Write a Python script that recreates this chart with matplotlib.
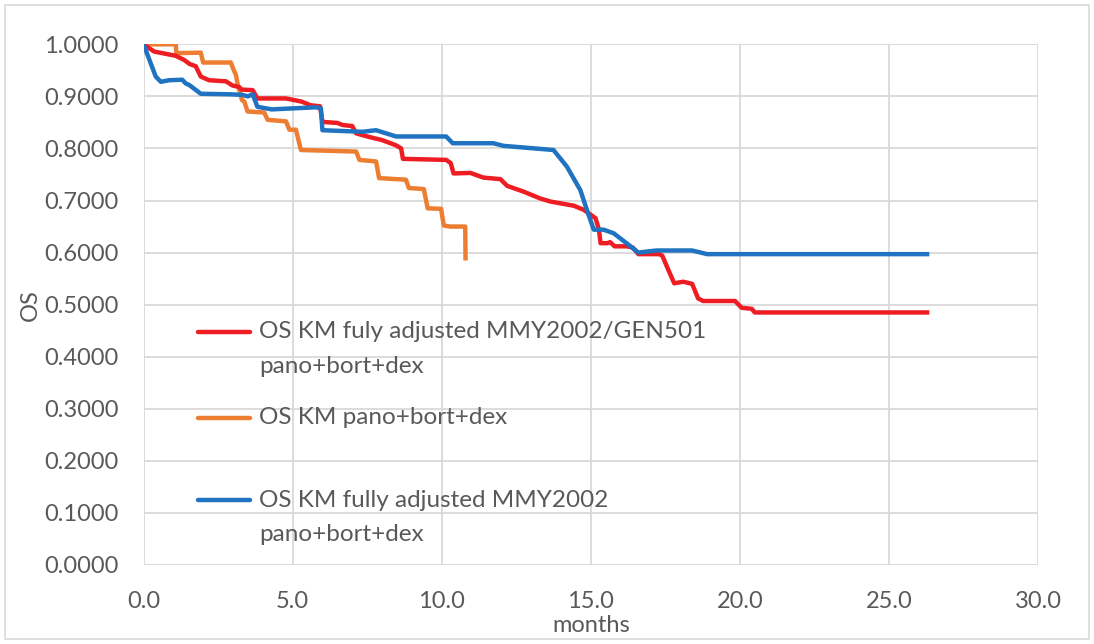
import matplotlib
matplotlib.use("Agg")
import matplotlib.pyplot as plt
from matplotlib.patches import Rectangle
from matplotlib.lines import Line2D

# Kaplan-Meier overall survival curves (months, OS)
red_months = [0.0, 0.36, 1.08, 1.36, 1.55, 1.75, 1.92, 2.2, 2.76, 2.98, 3.2, 3.3, 3.66, 3.82,
              4.78, 5.3, 5.6, 5.92, 6.0, 6.5, 6.68, 7.0, 7.13, 7.57, 8.0, 8.47, 8.64, 8.70,
              10.15, 10.3, 10.40, 10.96, 11.4, 11.97, 12.2, 12.75, 13.3, 13.65, 14.43, 14.77,
              15.16, 15.27, 15.33, 15.55, 15.65, 15.8, 16.2, 16.4, 16.6, 17.3, 17.4, 17.6,
              17.8, 18.1, 18.4, 18.6, 18.77, 19.84, 20.06, 20.4, 20.5, 26.28]
red_os = [1.000, 0.986, 0.978, 0.970, 0.962, 0.958, 0.938, 0.931, 0.929, 0.921, 0.918, 0.913,
          0.912, 0.896, 0.896, 0.890, 0.883, 0.881, 0.851, 0.849, 0.845, 0.843, 0.829, 0.822,
          0.816, 0.806, 0.800, 0.780, 0.778, 0.772, 0.752, 0.753, 0.744, 0.741, 0.728, 0.717,
          0.704, 0.698, 0.690, 0.682, 0.666, 0.645, 0.618, 0.618, 0.620, 0.612, 0.612, 0.610,
          0.597, 0.597, 0.594, 0.567, 0.541, 0.544, 0.540, 0.512, 0.507, 0.507, 0.494, 0.492,
          0.485, 0.485]

orange_months = [0.0, 1.08, 1.10, 1.92, 2.0, 2.93, 3.0, 3.1, 3.15, 3.25, 3.30, 3.38, 3.49,
                 4.05, 4.16, 4.78, 4.89, 5.11, 5.28, 7.13, 7.24, 7.80, 7.90, 8.80, 8.90, 9.40,
                 9.53, 9.98, 10.07, 10.28, 10.79, 10.80]
orange_os = [1.000, 1.000, 0.983, 0.984, 0.965, 0.965, 0.954, 0.941, 0.925, 0.905, 0.893,
             0.890, 0.871, 0.869, 0.855, 0.852, 0.836, 0.836, 0.797, 0.794, 0.778, 0.775,
             0.743, 0.740, 0.724, 0.722, 0.685, 0.684, 0.652, 0.650, 0.650, 0.589]

blue_months = [0.0, 0.41, 0.58, 0.86, 1.30, 1.41, 1.53, 1.76, 1.92, 2.87, 3.3, 3.5, 3.66, 3.82,
               4.3, 5.77, 5.95, 6.0, 7.35, 7.8, 8.47, 10.15, 10.37, 11.73, 12.07, 13.75, 14.2,
               14.65, 14.87, 15.1, 15.43, 15.77, 16.2, 16.6, 17.2, 18.4, 18.9, 26.28]
blue_os = [1.000, 0.938, 0.928, 0.931, 0.932, 0.925, 0.922, 0.912, 0.905, 0.904, 0.903, 0.900,
           0.904, 0.880, 0.875, 0.879, 0.877, 0.835, 0.832, 0.835, 0.823, 0.823, 0.810, 0.810,
           0.805, 0.797, 0.765, 0.720, 0.682, 0.644, 0.644, 0.637, 0.618, 0.600, 0.604, 0.604,
           0.597, 0.597]

x_ticks = [0, 5, 10, 15, 20, 25, 30]
y_ticks = [0.0, 0.1, 0.2, 0.3, 0.4, 0.5, 0.6, 0.7, 0.8, 0.9, 1.0]

RED = "#EE1D23"
ORANGE = "#ED7D31"
BLUE = "#1F73C1"
TEXT = "#595959"
GRID = "#D9D9D9"
FONT = ["Lato", "DejaVu Sans"]
FS = 17

plt.rcParams["font.family"] = FONT

fig = plt.figure(figsize=(10.94, 6.44), dpi=100)
fig.patch.set_facecolor("white")
fig.add_artist(Rectangle((0.005, 0.008), 0.99, 0.985, transform=fig.transFigure,
                         fill=False, edgecolor=GRID, linewidth=1.2))

ax = fig.add_axes([0.1312, 0.1227, 0.8176, 0.8085])

ax.plot(red_months, red_os, color=RED, linewidth=3.2, solid_joinstyle="round", zorder=3)
ax.plot(orange_months, orange_os, color=ORANGE, linewidth=3.2, solid_joinstyle="round", zorder=2)
ax.plot(blue_months, blue_os, color=BLUE, linewidth=3.2, solid_joinstyle="round", zorder=4)

ax.set_xlim(0, 30)
ax.set_ylim(0, 1.0)
ax.set_xticks(x_ticks)
ax.set_xticklabels([f"{v:.1f}" for v in x_ticks])
ax.set_yticks(y_ticks)
ax.set_yticklabels([f"{v:.4f}" for v in y_ticks])
ax.grid(True, color=GRID, linewidth=1.3)
ax.set_axisbelow(True)
for s in ax.spines.values():
    s.set_visible(False)
ax.tick_params(length=0, labelsize=FS, colors=TEXT)
ax.tick_params(axis="x", pad=19)
ax.tick_params(axis="y", pad=18)

ax.set_xlabel("months", fontsize=FS, color=TEXT, labelpad=2)
ax.set_ylabel("OS", fontsize=FS, color=TEXT, labelpad=2)

# Legend drawn inside the plot area
entries = [
    (RED, ["OS KM fuly adjusted MMY2002/GEN501", "pano+bort+dex"], 0.4475),
    (ORANGE, ["OS KM pano+bort+dex"], 0.2823),
    (BLUE, ["OS KM fully adjusted MMY2002", "pano+bort+dex"], 0.1248),
]
line_gap = 0.0655
for color, lines, yy in entries:
    ax.add_line(Line2D([0.061, 0.119], [yy, yy], transform=ax.transAxes,
                       color=color, linewidth=3.2, solid_capstyle="round", zorder=5))
    for i, txt in enumerate(lines):
        ax.text(0.129, yy - i * line_gap, txt, transform=ax.transAxes,
                fontsize=17.5, color=TEXT, va="center", ha="left", zorder=5)

fig.savefig("out.png", dpi=100, facecolor="white")
